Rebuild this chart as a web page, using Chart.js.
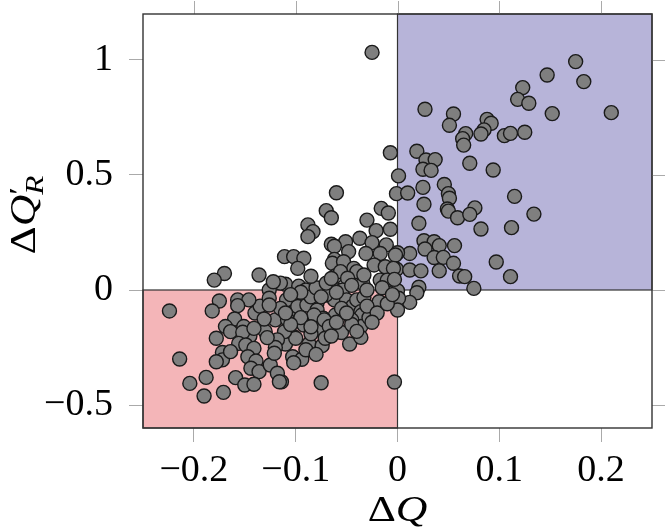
<!DOCTYPE html>
<html>
<head>
<meta charset="utf-8">
<script src="https://cdn.jsdelivr.net/npm/chart.js@4.4.0/dist/chart.umd.min.js"></script>
<style>
    html, body { margin: 0; padding: 0; background: #fff; }
</style>
</head>
<body>
<canvas id="scatter" width="666" height="529"></canvas>
<script>
// Delta Q (x) and Delta Q'_R (y)
var dQ = [
    0.175, 0.147, 0.183, 0.123, 0.118, 0.129, 0.152, 0.210, 0.027, 0.055,
    0.051, 0.088, 0.092, 0.085, 0.082, 0.067, 0.064, 0.065, 0.105, 0.111,
    0.125, 0.019, 0.028, 0.037, 0.025, 0.033, 0.071, 0.094, 0.001, -0.007,
    -0.001, 0.010, 0.025, 0.046, 0.050, 0.051, 0.026, 0.115, 0.049, 0.076,
    0.134, 0.050, 0.059, 0.071, 0.021, 0.082, 0.112, 0.026, 0.036, 0.041,
    0.056, 0.027, 0.036, 0.045, 0.055, 0.097, 0.012, 0.000, -0.001, 0.012,
    0.023, 0.041, 0.061, 0.066, 0.111, 0.075, 0.021, 0.019, 0.012, 0.000,
    0.001, 0.000, -0.003,
    -0.025, -0.060, -0.070, -0.065, -0.016, -0.009, -0.030, -0.088, -0.083, -0.088,
    -0.021, -0.007, -0.037, -0.051, -0.065, -0.062, -0.025, -0.011, -0.048, -0.031,
    -0.017, -0.111, -0.102, -0.092, -0.062, -0.002, -0.098, -0.064, -0.053, -0.043,
    -0.040, -0.023, -0.012, -0.004, -0.061, -0.056, -0.049, -0.034, -0.017, -0.010,
    -0.003, -0.033, -0.110, -0.097, -0.090, -0.126, -0.071, -0.079, -0.091, -0.059,
    -0.054, -0.062, -0.050, -0.044, -0.040, -0.033, -0.018, -0.036, -0.035, -0.061,
    -0.055, -0.109, -0.103, -0.098, -0.089, -0.079, -0.073, -0.082, -0.092, -0.079,
    -0.072, -0.067, -0.055, -0.047, -0.036, -0.036, -0.102, -0.110, -0.100, -0.087,
    -0.074, -0.071, -0.103, -0.094, -0.102, -0.114, -0.075, -0.120, -0.111, -0.118,
    -0.115, -0.108, -0.095, -0.085, -0.060, -0.045, -0.028, -0.070, -0.085, -0.105,
    -0.030, -0.020, -0.010, -0.045, -0.025, -0.060, -0.080, -0.070, -0.085, -0.075,
    -0.095, -0.105, -0.065, -0.045, -0.030, -0.015, -0.005, -0.050, -0.040, -0.065,
    -0.085, -0.090, -0.080, -0.120, -0.130, -0.140, -0.110, -0.135, -0.145, -0.115,
    -0.170, -0.180, -0.136, -0.122, -0.224, -0.175, -0.182, -0.157, -0.146, -0.157,
    -0.126, -0.126, -0.160, -0.131, -0.169, -0.164, -0.151, -0.152, -0.141, -0.178,
    -0.128, -0.156, -0.149, -0.141, -0.172, -0.172, -0.178, -0.164, -0.147, -0.139,
    -0.144, -0.136, -0.214, -0.188, -0.204, -0.190, -0.171, -0.159, -0.150, -0.141,
    -0.125, -0.121, -0.118, -0.116
];
var dQR = [
    0.993, 0.935, 0.906, 0.880, 0.829, 0.812, 0.767, 0.771, 0.786, 0.765,
    0.716, 0.742, 0.725, 0.696, 0.678, 0.680, 0.658, 0.630, 0.671, 0.681,
    0.686, 0.603, 0.565, 0.567, 0.525, 0.520, 0.551, 0.522, 0.496, 0.597,
    0.419, 0.422, 0.446, 0.459, 0.419, 0.399, 0.373, 0.407, 0.352, 0.357,
    0.330, 0.343, 0.314, 0.329, 0.290, 0.265, 0.271, 0.214, 0.210, 0.193,
    0.193, 0.178, 0.141, 0.142, 0.116, 0.122, 0.159, 0.162, 0.090, 0.087,
    0.083, 0.083, 0.061, 0.058, 0.058, 0.007, 0.012, -0.012, -0.054, -0.003,
    -0.036, -0.087, -0.400,
    1.033, 0.423, 0.345, 0.314, 0.355, 0.335, 0.304, 0.283, 0.254, 0.232,
    0.258, 0.264, 0.225, 0.210, 0.199, 0.190, 0.206, 0.196, 0.167, 0.159,
    0.159, 0.145, 0.145, 0.138, 0.133, 0.152, 0.094, 0.116, 0.123, 0.094,
    0.080, 0.109, 0.101, 0.094, 0.061, 0.080, 0.051, 0.029, 0.043, 0.043,
    0.046, 0.065, 0.025, 0.017, 0.000, 0.000, -0.022, -0.055, -0.033, 0.000,
    0.000, -0.043, -0.043, -0.070, -0.043, -0.032, -0.051, -0.094, -0.109, -0.109,
    -0.080, -0.043, -0.099, -0.072, -0.065, -0.087, -0.123, -0.109, -0.152, -0.167,
    -0.130, -0.159, -0.185, -0.235, -0.159, -0.206, -0.203, -0.235, -0.210, -0.235,
    -0.242, -0.210, -0.290, -0.301, -0.316, -0.399, -0.403, -0.130, -0.181, -0.217,
    -0.080, -0.130, -0.120, -0.190, -0.140, -0.130, -0.120, -0.020, -0.030, -0.150,
    -0.070, -0.100, -0.060, -0.150, -0.140, -0.010, 0.010, 0.030, 0.060, -0.030,
    -0.010, -0.020, 0.050, 0.020, 0.000, 0.010, -0.020, -0.100, -0.180, -0.200,
    -0.160, -0.260, -0.280, -0.250, -0.180, -0.100, -0.100, -0.070, -0.200, 0.030,
    0.072, 0.043, 0.065, 0.036, -0.091, -0.048, -0.091, -0.043, -0.043, -0.068,
    -0.036, -0.065, -0.126, -0.126, -0.159, -0.181, -0.159, -0.184, -0.167, -0.210,
    -0.207, -0.232, -0.239, -0.254, -0.272, -0.304, -0.312, -0.268, -0.290, -0.309,
    -0.340, -0.355, -0.300, -0.380, -0.406, -0.461, -0.445, -0.381, -0.413, -0.410,
    -0.326, -0.275, -0.362, -0.399
];
var xTicks = [-0.2, -0.1, 0, 0.1, 0.2];
var yTicks = [-0.5, 0, 0.5, 1];

var points = [];
for (var i = 0; i < dQ.length; i++) {
    points.push({ x: dQ[i], y: dQR[i] });
}

var serif = '"Liberation Serif", "DejaVu Serif", serif';

function fmt(v) {
    return v < 0 ? '\u2212' + String(Math.abs(v)) : String(v);
}

// shaded quadrants, frame and the mirrored ticks on top / right
var quadrants = {
    id: 'quadrants',
    beforeDatasetsDraw: function (chart) {
        var ctx = chart.ctx, xs = chart.scales.x, ys = chart.scales.y;
        var x0 = xs.getPixelForValue(0), y0 = ys.getPixelForValue(0);
        var l = xs.getPixelForValue(xs.min), r = xs.getPixelForValue(xs.max);
        var t = ys.getPixelForValue(ys.max), b = ys.getPixelForValue(ys.min);
        ctx.save();
        ctx.fillStyle = '#f4b5b8';
        ctx.fillRect(l, y0, x0 - l, b - y0);
        ctx.fillStyle = '#b7b4d9';
        ctx.fillRect(x0, t, r - x0, y0 - t);
        ctx.strokeStyle = '#333';
        ctx.lineWidth = 1.2;
        ctx.strokeRect(l, y0, x0 - l, b - y0);
        ctx.strokeRect(x0, t, r - x0, y0 - t);
        ctx.restore();
    },
    afterDraw: function (chart) {
        var ctx = chart.ctx, a = chart.chartArea;
        var xs = chart.scales.x, ys = chart.scales.y;
        ctx.save();
        ctx.strokeStyle = '#aaaaaa';
        ctx.lineWidth = 1;
        xTicks.forEach(function (v) {
            var px = Math.round(xs.getPixelForValue(v)) + 0.5;
            ctx.beginPath();
            ctx.moveTo(px, a.top);
            ctx.lineTo(px, a.top - 13);
            ctx.stroke();
        });
        yTicks.forEach(function (v) {
            var py = Math.round(ys.getPixelForValue(v)) + 0.5;
            ctx.beginPath();
            ctx.moveTo(a.right, py);
            ctx.lineTo(a.right + 13, py);
            ctx.stroke();
        });
        ctx.strokeStyle = '#333';
        ctx.lineWidth = 1.4;
        ctx.strokeRect(a.left, a.top, a.right - a.left, a.bottom - a.top);
        ctx.restore();
    }
};

// math-like label: upright Delta, italic letters, optional sub/superscript
function drawRuns(ctx, runs, size) {
    var w = 0;
    runs.forEach(function (r) {
        ctx.font = (r.italic ? 'italic ' : '') + Math.round(size * (r.scale || 1)) + 'px ' + serif;
        r.w = ctx.measureText(r.text).width;
        if (!r.stack) w += r.w;
    });
    var x = -w / 2, last = 0;
    runs.forEach(function (r) {
        ctx.font = (r.italic ? 'italic ' : '') + Math.round(size * (r.scale || 1)) + 'px ' + serif;
        var sx = r.stack ? last : x;
        ctx.fillText(r.text, sx, r.dy || 0);
        if (!r.stack) { last = x; x += r.w; }
    });
}

var axisTitles = {
    id: 'axisTitles',
    afterDraw: function (chart) {
        var ctx = chart.ctx, a = chart.chartArea;
        ctx.save();
        ctx.fillStyle = '#000';
        ctx.textBaseline = 'alphabetic';
        ctx.textAlign = 'left';
        ctx.save();
        ctx.translate((a.left + a.right) / 2, 521);
        ctx.scale(1.25, 1);
        drawRuns(ctx, [{ text: '\u0394' }, { text: 'Q', italic: true }], 35);
        ctx.restore();

        ctx.save();
        ctx.translate(35, 215);
        ctx.rotate(-Math.PI / 2);
        ctx.scale(1.25, 1);
        drawRuns(ctx, [
            { text: '\u0394' },
            { text: 'Q', italic: true },
            { text: 'R', italic: true, scale: 0.7, dy: 8 },
            { text: '\u2032', scale: 0.8, dy: -7, stack: true }
        ], 35);
        ctx.restore();
        ctx.restore();
    }
};

var tickFont = { family: serif, size: 38 };

var ctx = document.getElementById('scatter').getContext('2d');
var scatter = new Chart(ctx, {
    type: 'scatter',
    data: {
        datasets: [{
            data: points,
            backgroundColor: '#7f7f7f',
            borderColor: '#1a1a1a',
            borderWidth: 1.4,
            pointRadius: 7,
            pointHoverRadius: 7
        }]
    },
    options: {
        responsive: false,
        animation: false,
        events: [],
        layout: { padding: { top: 14, right: 14, left: 0, bottom: 0 } },
        plugins: {
            legend: { display: false },
            tooltip: { enabled: false }
        },
        scales: {
            x: {
                type: 'linear',
                min: -0.25,
                max: 0.25,
                afterBuildTicks: function (s) {
                    s.ticks = xTicks.map(function (v) { return { value: v }; });
                },
                afterFit: function (s) {
                    s.height = 101;
                    s.paddingLeft = 0;
                    s.paddingRight = 0;
                },
                grid: { drawOnChartArea: false, tickLength: 14, color: '#aaaaaa' },
                border: { display: false },
                ticks: {
                    font: tickFont,
                    color: '#000',
                    padding: 6,
                    maxRotation: 0,
                    callback: function (v) { return fmt(v); }
                }
            },
            y: {
                type: 'linear',
                min: -0.6,
                max: 1.2,
                afterBuildTicks: function (s) {
                    s.ticks = yTicks.map(function (v) { return { value: v }; });
                },
                afterFit: function (s) {
                    s.width = 143;
                    s.paddingTop = 0;
                    s.paddingBottom = 0;
                },
                grid: { drawOnChartArea: false, tickLength: 14, color: '#aaaaaa' },
                border: { display: false },
                ticks: {
                    font: tickFont,
                    color: '#000',
                    padding: 16,
                    callback: function (v) { return fmt(v); }
                }
            }
        }
    },
    plugins: [quadrants, axisTitles]
});
</script>
</body>
</html>
